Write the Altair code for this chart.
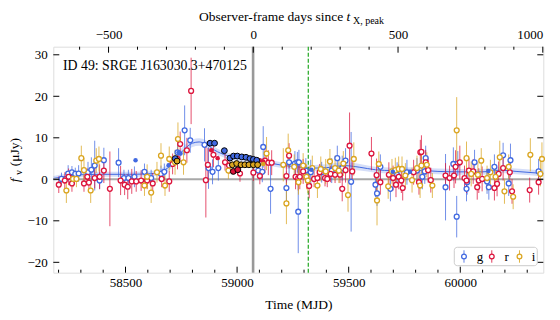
import altair as alt
import pandas as pd

# ---------------- data ----------------
# open symbols: (MJD, flux [uJy], error)
g_mjd = [58213, 58243, 58260, 58275, 58290, 58332, 58347, 58362, 58384, 58403, 58469, 58493, 58513, 58540,
         58585, 58615, 58659, 58674, 58733, 58765, 58790, 58854, 58872, 58890, 58916, 59095, 59113, 59117,
         59150, 59221, 59233, 59259, 59270, 59274, 59277, 59308, 59330, 59379, 59424, 59449, 59471, 59486,
         59511, 59620, 59627, 59642, 59687, 59717, 59761, 59806, 59830, 59841, 59845, 59934, 59969, 59984,
         59989, 60028, 60031, 60064, 60120, 60128, 60153, 60192, 60217, 60225, 60351]
g_flux = [0.1, 1.4, 1.7, 1.3, 1.4, 1.7, 2.3, 3.3, -0.3, 4.6, 4.0, 0.3, 0.3, 0.6,
          1.8, 0.3, 1.3, 1.8, 6.5, 11.8, 9.4, 8.3, 2.7, 1.8, 2.7, 2.1, 1.8, 7.8,
          -2.3, -2.1, 4.1, 3.8, 4.1, -7.8, 4.1, 2.1, 1.7, 1.7, 2.1, 5.1, 2.7, 4.5,
          -0.6, -1.3, -3.4, 3.0, -2.3, 1.1, 1.7, 2.1, 0.6, 1.9, 5.1, -1.9, 3.7, -9.0,
          3.8, -2.3, -0.7, 4.1, -0.5, -1.9, 3.0, 5.8, -1.0, 4.6, 1.9]
g_err = [1.5, 2.0, 1.5, 1.5, 2.0, 2.5, 3.0, 6.0, 2.0, 3.0, 3.5, 2.0, 2.0, 2.5,
         2.0, 2.0, 2.0, 2.0, 2.5, 6.0, 3.0, 4.0, 5.0, 3.0, 3.0, 2.0, 2.5, 5.0,
         6.0, 4.0, 3.0, 3.0, 2.5, 10.0, 3.0, 3.0, 3.0, 2.5, 3.0, 3.0, 3.0, 3.0,
         12.0, 3.0, 3.0, 3.0, 3.0, 3.0, 3.0, 3.0, 3.0, 3.0, 3.0, 8.0, 4.0, 5.0,
         3.0, 3.0, 3.0, 3.0, 3.0, 3.0, 3.0, 3.0, 3.0, 4.0, 3.0]

r_mjd = [58201, 58228, 58245, 58260, 58314, 58329, 58336, 58362, 58384, 58403, 58430, 58478, 58496, 58510,
         58528, 58548, 58570, 58597, 58622, 58662, 58696, 58711, 58733, 58745, 58775, 58794, 58860, 58869,
         58894, 58946, 58964, 59013, 59073, 59102, 59125, 59140, 59155, 59221, 59233, 59262, 59274, 59281,
         59296, 59323, 59345, 59360, 59370, 59394, 59404, 59419, 59439, 59461, 59471, 59486, 59504, 59516,
         59602, 59625, 59642, 59680, 59699, 59712, 59724, 59736, 59742, 59791, 59815, 59821, 59826, 59845,
         59856, 59868, 59934, 59952, 59972, 59979, 59998, 60019, 60028, 60039, 60058, 60076, 60083, 60098,
         60153, 60165, 60172, 60192, 60222, 60232, 60311, 60351]
r_flux = [-1.3, -0.3, 0.6, -1.0, -1.0, 0.6, -0.8, 0.3, 0.6, 2.1, -2.3, -0.3, -1.3, -1.8,
          -0.5, -0.5, -0.3, -0.3, -1.0, 0.1, -0.5, 3.7, 4.9, 8.5, 7.0, 21.3, -0.2, 3.5,
          5.9, 4.1, 3.3, 1.4, 1.6, 0.8, 4.5, 4.0, 4.0, 0.8, 5.7, 0.6, 0.3, 0.6,
          1.9, -1.6, 0.1, 0.3, 1.7, 0.3, 0.1, 1.3, 1.1, 1.1, -2.3, 2.2, 8.1, 1.9,
          6.2, 1.0, -0.7, 1.1, 0.3, -1.3, 0.6, -0.3, -2.1, 1.7, -0.7, 6.5, 6.6, 4.1,
          2.2, -0.2, 0.9, 0.3, 0.9, 3.0, 4.1, 0.3, -0.3, 2.1, 1.9, -1.9, -0.3, 0.1,
          -2.1, -1.1, 1.3, 2.7, 1.7, -2.9, -2.6, -0.7]
r_err = [2.0, 2.0, 2.0, 2.0, 2.0, 2.0, 2.0, 2.5, 3.0, 3.0, 9.0, 3.5, 2.5, 3.0,
         3.0, 2.5, 2.5, 2.0, 2.5, 2.0, 2.5, 2.5, 2.5, 3.0, 3.0, 8.0, 9.0, 4.0,
         3.0, 2.0, 2.0, 2.0, 2.0, 2.0, 3.0, 3.0, 3.0, 3.0, 3.0, 3.0, 3.0, 3.0,
         3.0, 3.0, 2.0, 2.0, 2.0, 2.0, 2.0, 2.0, 2.0, 2.0, 3.0, 3.0, 8.0, 3.0,
         4.0, 4.0, 3.0, 3.0, 3.0, 3.0, 3.0, 3.0, 3.0, 3.0, 3.0, 3.0, 4.0, 3.0,
         3.0, 3.0, 3.0, 3.0, 3.0, 4.0, 4.0, 3.0, 3.0, 3.0, 3.0, 3.0, 3.0, 3.0,
         3.0, 3.0, 3.0, 3.0, 3.0, 3.0, 3.0, 3.0]

i_mjd = [58235, 58265, 58280, 58302, 58314, 58344, 58369, 58381, 58585, 58597, 58615, 58641, 58659, 58677,
         58696, 58722, 58735, 58760, 58961, 59132, 59207, 59221, 59229, 59256, 59275, 59296, 59311, 59317,
         59337, 59360, 59375, 59397, 59416, 59439, 59456, 59476, 59497, 59523, 59627, 59635, 59677, 59694,
         59709, 59724, 59739, 59754, 59784, 59806, 59820, 59826, 59850, 59875, 59984, 60028, 60049, 60079,
         60094, 60120, 60135, 60158, 60177, 60198, 60217, 60237, 60314, 60359, 60366]
i_flux = [-2.7, 0.1, 0.1, 5.1, 2.2, -2.7, 4.5, 4.9, -1.5, 0.6, -3.2, 1.7, 5.7, -1.5,
          4.9, 4.1, 9.7, 4.1, 2.1, 6.2, 3.5, -5.8, 7.0, 3.0, -0.7, 3.3, 0.6, -0.3,
          2.7, -1.5, 2.5, 1.9, 4.3, 2.7, 2.1, 3.8, -3.8, 4.9, -5.1, 3.7, -1.7, 1.9,
          2.2, 2.5, 2.5, 0.9, -0.2, 2.7, -1.5, 3.3, 3.5, -1.5, 11.8, 5.1, 1.3, 1.1,
          4.5, 0.3, 1.7, 0.6, 5.3, -2.9, 3.0, -4.2, 5.9, 1.3, 4.9]
i_err = [3.0, 2.0, 2.0, 3.0, 3.0, 3.0, 3.0, 3.0, 2.5, 3.0, 2.5, 2.5, 3.0, 2.5,
         3.0, 3.0, 4.0, 3.0, 2.0, 4.0, 4.0, 5.0, 4.0, 3.0, 3.0, 3.0, 3.0, 3.0,
         3.0, 3.0, 3.0, 3.0, 3.0, 3.0, 3.0, 3.0, 4.0, 4.0, 6.0, 3.0, 3.0, 3.0,
         3.0, 3.0, 3.0, 3.0, 3.0, 3.0, 3.0, 3.0, 3.0, 3.0, 8.0, 4.0, 3.0, 3.0,
         3.0, 3.0, 3.0, 3.0, 4.0, 3.0, 3.0, 3.0, 4.0, 3.0, 4.0]

# filled symbols with black edge
gd_mjd = [58723, 58879, 58899, 58943, 58968, 58984, 59001, 59021, 59040, 59058, 59073, 59088]
gd_flux = [5.0, 8.7, 8.7, 6.9, 5.1, 5.6, 5.6, 5.4, 5.3, 5.0, 4.8, 4.6]
rd_mjd = [58983, 59003]
rd_flux = [1.9, 2.3]
id_mjd = [58731, 58979, 58998, 59018, 59035, 59053, 59073, 59092]
id_flux = [4.4, 3.5, 3.8, 3.5, 3.5, 3.5, 3.5, 3.5]

# small filled symbols
gs_mjd = [58545, 58693, 58738, 58746, 59333, 59698, 59775, 60126]
gs_flux = [4.6, 3.4, 6.5, 6.2, 2.3, 1.8, 1.8, 2.0]
rs_mjd = [58730, 58884, 58913, 59102, 59117]
rs_flux = [4.5, 7.0, 5.1, 4.6, 4.3]
is_mjd = [59117]
is_flux = [3.7]

# model curve and its band
model_mjd = [58177, 58220, 58260, 58300, 58400, 58500, 58600, 58650, 58700, 58750, 58800, 58830, 58860,
             58900, 58950, 59000, 59050, 59100, 59150, 59200, 59270, 59330, 59400, 59480, 59550, 59620,
             59700, 59800, 59900, 60000, 60100, 60180, 60250, 60372]
model_flux = [0.2, 0.6, 0.9, 1.1, 1.2, 1.2, 1.3, 1.7, 3.2, 6.5, 8.7, 9.0, 8.5,
              7.0, 5.8, 5.2, 4.8, 4.4, 3.9, 3.4, 3.0, 2.7, 2.8, 3.3, 2.9, 2.3,
              2.1, 2.2, 1.9, 1.8, 1.8, 2.2, 1.9, 1.4]
model_hw = [0.6, 0.6, 0.6, 0.6, 0.6, 0.6, 0.6, 0.7, 0.8, 0.9, 0.9, 0.9, 0.9,
            0.8, 0.7, 0.7, 0.7, 0.7, 0.7, 0.7, 0.7, 0.7, 0.8, 0.8, 0.8, 0.7,
            0.7, 0.7, 0.7, 0.7, 0.7, 0.7, 0.7, 0.7]

t_peak = 59071.7      # MJD of t_X,peak
green_mjd = 59319
bands = ["g", "r", "i"]
colors = ["#4169E1", "#DC143C", "#DAA520"]

x_ticks_major = [58500, 59000, 59500, 60000]
x_ticks_minor = [58200, 58300, 58400, 58600, 58700, 58800, 58900, 59100, 59200, 59300, 59400,
                 59600, 59700, 59800, 59900, 60100, 60200, 60300]
top_major = [-500, 0, 500, 1000]
top_minor = [-600, -400, -300, -200, -100, 100, 200, 300, 400, 600, 700, 800, 900]
y_ticks = [-20, -10, 0, 10, 20, 30]

# ---------------- tables ----------------
def table(mjd, flux, err, band):
    return pd.DataFrame({"mjd": mjd, "flux": flux, "lo": [f - e for f, e in zip(flux, err)],
                         "hi": [f + e for f, e in zip(flux, err)], "band": band})

opn = pd.concat([table(g_mjd, g_flux, g_err, "g"), table(r_mjd, r_flux, r_err, "r"),
                 table(i_mjd, i_flux, i_err, "i")], ignore_index=True)
det = pd.concat([pd.DataFrame({"mjd": gd_mjd, "flux": gd_flux, "band": "g"}),
                 pd.DataFrame({"mjd": id_mjd, "flux": id_flux, "band": "i"}),
                 pd.DataFrame({"mjd": rd_mjd, "flux": rd_flux, "band": "r"})], ignore_index=True)
sml = pd.concat([pd.DataFrame({"mjd": gs_mjd, "flux": gs_flux, "band": "g"}),
                 pd.DataFrame({"mjd": rs_mjd, "flux": rs_flux, "band": "r"}),
                 pd.DataFrame({"mjd": is_mjd, "flux": is_flux, "band": "i"})], ignore_index=True)
model = pd.DataFrame({"mjd": model_mjd, "flux": model_flux,
                      "lo": [f - h for f, h in zip(model_flux, model_hw)],
                      "hi": [f + h for f, h in zip(model_flux, model_hw)]})

# ---------------- scales / axes ----------------
W, H = 490, 226
FONT = "Liberation Serif"
xs = alt.Scale(domain=[58176.5, 60372], nice=False, zero=False)
ys = alt.Scale(domain=[-22.5, 31.95], nice=False, zero=False)
ts = alt.Scale(domain=[-690.8, 1001.7], nice=False, zero=False)
cs = alt.Scale(domain=bands, range=colors)

xax = alt.Axis(values=x_ticks_major, format="d", title="Time (MJD)", grid=False, ticks=False, tickSize=0,
               domain=False, labelPadding=4, titlePadding=8, labelFont=FONT, titleFont=FONT,
               labelFontSize=13, titleFontSize=13.5, titleFontWeight="normal",
               labelColor="black", titleColor="black")
yax = alt.Axis(values=y_ticks, title=None, grid=False, ticks=False, tickSize=0, domain=False,
               labelPadding=6, labelFont=FONT, labelFontSize=13, labelColor="black",
               labelExpr="datum.value < 0 ? '\u2212' + abs(datum.value) : datum.label")
tax = alt.Axis(values=top_major, format="d", orient="top", title=None, grid=False, ticks=False,
               tickSize=0, domain=False, labelPadding=5, labelFont=FONT, labelFontSize=13,
               labelColor="black")

X = lambda f="mjd": alt.X(f"{f}:Q", scale=xs, axis=xax)
Y = lambda f="flux": alt.Y(f"{f}:Q", scale=ys, axis=yax)
one = pd.DataFrame({"k": [0]})

band_area = alt.Chart(model).mark_area(color=colors[0], opacity=0.22, interpolate="monotone").encode(
    x=X(), y=Y("lo"), y2="hi")
band_line = alt.Chart(model).mark_line(color=colors[0], strokeWidth=1, interpolate="monotone").encode(
    x=X(), y=Y())
zero = alt.Chart(pd.DataFrame({"flux": [0]})).mark_rule(color="#a8a8a8", strokeWidth=2).encode(y=Y())
vpeak = alt.Chart(pd.DataFrame({"mjd": [t_peak]})).mark_rule(color="#999999", strokeWidth=2.6).encode(x=X())
vgreen = alt.Chart(pd.DataFrame({"mjd": [green_mjd]})).mark_rule(
    color="#22a822", strokeWidth=1.2, strokeDash=[4, 2]).encode(x=X())

errs = alt.Chart(opn).mark_rule(strokeWidth=1, opacity=0.75, clip=True).encode(
    x=X(), y=Y("lo"), y2="hi", color=alt.Color("band:N", scale=cs, legend=None))
pts = alt.Chart(opn).mark_point(shape="circle", filled=False, fill="white", fillOpacity=1, opacity=1,
                                size=24, strokeWidth=1.3).encode(
    x=X(), y=Y(), color=alt.Color("band:N", scale=cs, legend=None))
small = alt.Chart(sml).mark_circle(size=20, opacity=1).encode(
    x=X(), y=Y(), color=alt.Color("band:N", scale=cs, legend=None))
dets = alt.Chart(det).mark_circle(size=34, opacity=1, stroke="black", strokeWidth=1).encode(
    x=X(), y=Y(), color=alt.Color("band:N", scale=cs, legend=None))

def hticks(vals, y1, y2):
    return alt.Chart(pd.DataFrame({"mjd": vals})).mark_rule(color="black", strokeWidth=1).encode(
        x=X(), y=alt.value(y1), y2=alt.value(y2))

def vticks(vals, x1, x2):
    return alt.Chart(pd.DataFrame({"flux": vals})).mark_rule(color="black", strokeWidth=1).encode(
        y=Y(), x=alt.value(x1), x2=alt.value(x2))

def txt(s, x, y, size=13.5, align="left", style="normal", angle=0):
    return alt.Chart(one).mark_text(text=s, font=FONT, fontSize=size, align=align, baseline="alphabetic",
                                    fontStyle=style, angle=angle, color="black").encode(
        x=alt.value(x), y=alt.value(y))

# ---------------- legend (box with errorbar-style symbols) ----------------
LX0, LX1, LY0, LY1 = 401, 484, 200.6, 219
leg_sym_x = [410.7, 438.5, 466.2]
leg_lab_x = [423.5, 451.3, 478.4]
leg_layers = [alt.Chart(one).mark_rect(fill="white", stroke="#cccccc", strokeWidth=1, cornerRadius=3).encode(
    x=alt.value(LX0), x2=alt.value(LX1), y=alt.value(LY0), y2=alt.value(LY1))]
for b, c, sx, lx in zip(bands, colors, leg_sym_x, leg_lab_x):
    leg_layers.append(alt.Chart(one).mark_rule(color=c, strokeWidth=1, opacity=0.85).encode(
        x=alt.value(sx), y=alt.value(203.6), y2=alt.value(216)))
    leg_layers.append(alt.Chart(one).mark_point(shape="circle", fill="white", fillOpacity=1, stroke=c,
                                                strokeWidth=1.3, size=22, opacity=1).encode(
        x=alt.value(sx), y=alt.value(209.8)))
    leg_layers.append(txt(b, lx, 214.3, size=13))

inner = alt.layer(
    band_area, band_line, zero, vpeak, vgreen, errs, pts, small, dets,
    hticks(x_ticks_major, H, H - 6), hticks(x_ticks_minor, H, H - 3),
    vticks(y_ticks, 0, 6), vticks(y_ticks, W, W - 6),
    txt("ID 49: SRGE J163030.3+470125", 9.7, 23, size=13.8),
    txt("Observer-frame days since", 290, -26, align="right"),
    txt("t", 293.2, -26, style="italic"),
    txt("X, peak", 299.7, -22.5, size=10),
    txt("f", -34, 135.5, style="italic", angle=270),
    txt("\u03bd", -31.5, 128, size=10, angle=270),
    txt("(\u03bcJy)", -34, 119.5, angle=270),
    *leg_layers,
)

top_major_l = alt.Chart(pd.DataFrame({"t": top_major})).mark_rule(color="black", strokeWidth=1).encode(
    x=alt.X("t:Q", scale=ts, axis=tax), y=alt.value(0), y2=alt.value(6))
top_minor_l = alt.Chart(pd.DataFrame({"t": top_minor})).mark_rule(color="black", strokeWidth=1).encode(
    x=alt.X("t:Q", scale=ts, axis=tax), y=alt.value(0), y2=alt.value(3))
top = alt.layer(top_major_l, top_minor_l)

chart = alt.layer(inner, top).resolve_scale(x="independent").properties(
    width=W, height=H,
    autosize=alt.AutoSizeParams(type="none"),
    padding={"left": 45.3, "top": 38.7, "right": 8, "bottom": 40},
).configure_view(stroke="black", strokeWidth=1.2).configure(background="white")

chart.save("out.html", embed_options={"renderer": "svg", "actions": False})
